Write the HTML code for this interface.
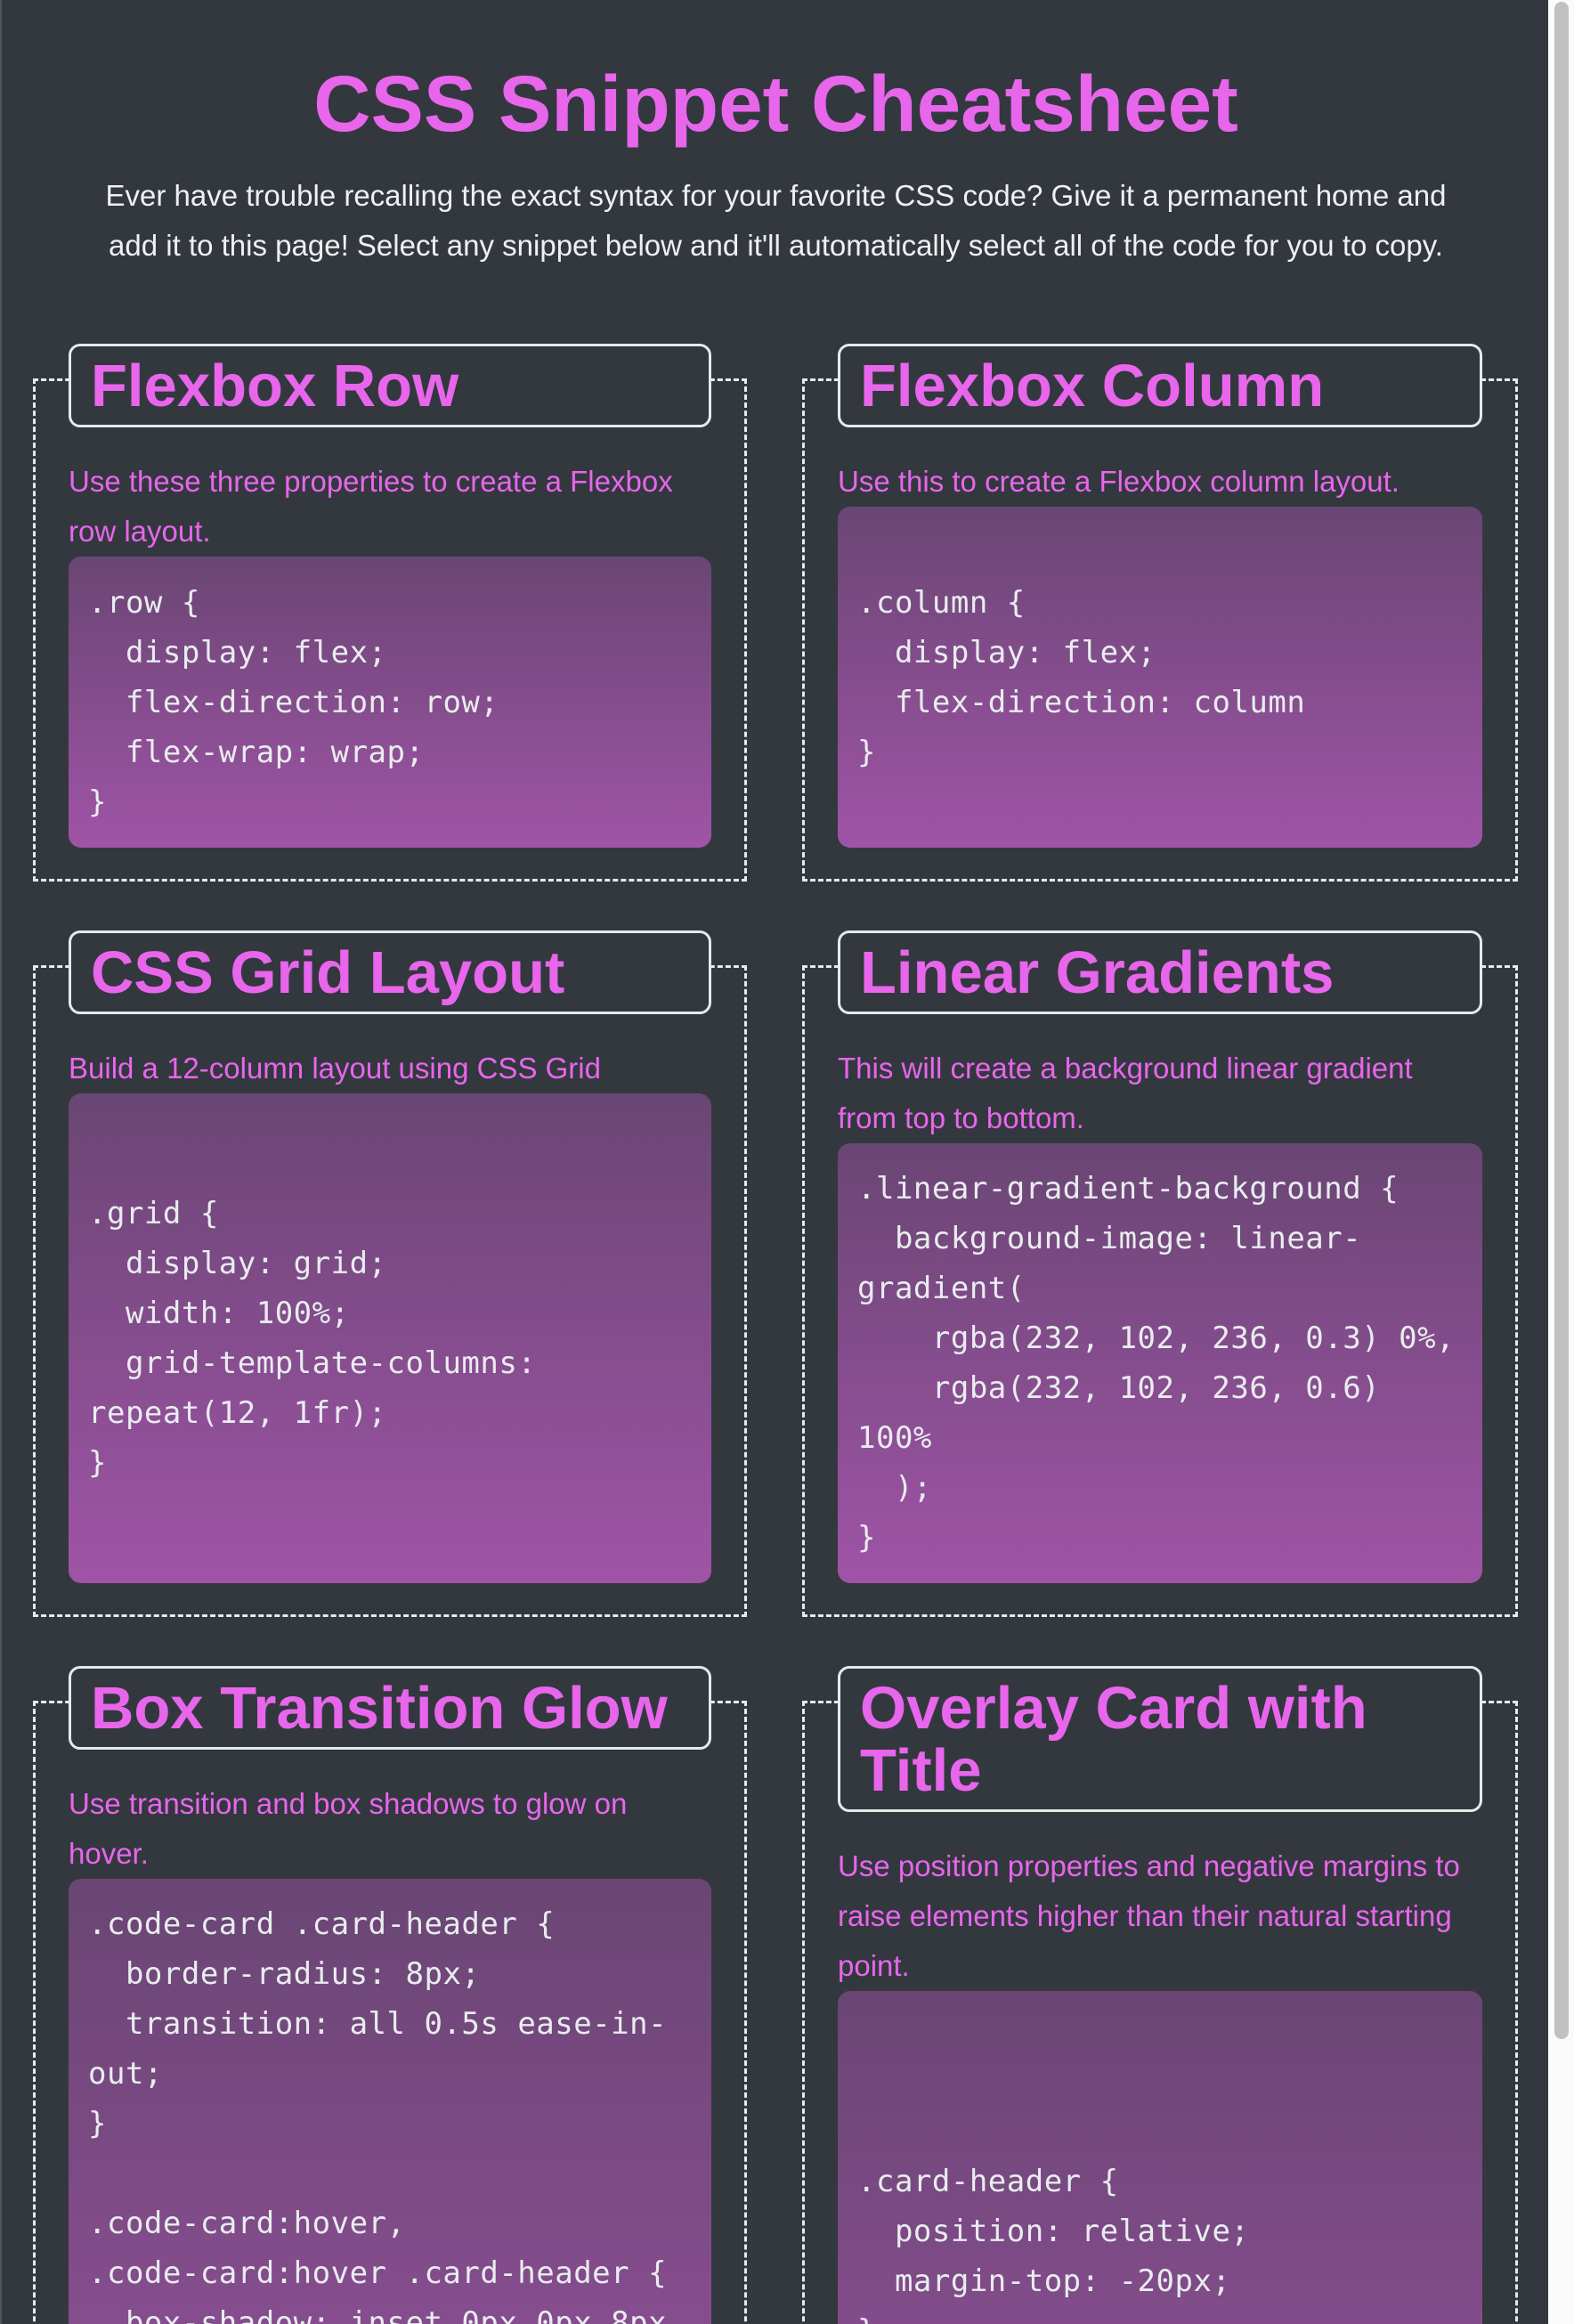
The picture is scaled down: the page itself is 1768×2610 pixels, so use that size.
<!DOCTYPE html>
<html><head><meta charset="utf-8"><style>
html,body{margin:0;padding:0;overflow:hidden;width:1768px;height:2610px;}
body{background:#fafafa;position:relative;font-family:"Liberation Sans",sans-serif;}
#page{position:absolute;left:0;top:0;width:1739px;height:2610px;background:#33383f;overflow:hidden;border-left:2px solid #50555c;box-sizing:border-box;}
#thumb{position:absolute;left:1746px;top:2px;width:16px;height:2288px;background:#c1c1c1;border-radius:8px;}
h1{position:absolute;left:0;width:1739px;top:60px;margin:0;text-align:center;color:#e866ec;font-size:89px;line-height:112px;font-weight:bold;}
.sub{position:absolute;left:0;width:1739px;top:192px;text-align:center;color:#eef0f2;font-size:33px;line-height:56px;white-space:nowrap;}
.card{position:absolute;border:3px dashed #e6ebe8;box-sizing:border-box;padding:0 37px 35px 37px;display:flex;flex-direction:column;}
.hd{margin-top:-42px;border:3px solid #e6ebe8;border-radius:13px;padding:10px 22px 8px 22px;color:#e866ec;font-weight:bold;font-size:67px;line-height:70px;background:#33383f;white-space:nowrap;}
.ds{color:#e866ec;font-size:33px;line-height:56px;margin-top:33px;white-space:nowrap;}
.cd{flex:1;border-radius:14px;background:linear-gradient(rgba(232,102,236,0.3),rgba(232,102,236,0.6));display:flex;flex-direction:column;justify-content:center;padding:0 22px;color:#e9ecef;}
.cd pre{margin:0;font-family:"DejaVu Sans Mono","Liberation Mono",monospace;font-size:34px;letter-spacing:0.5px;line-height:56px;white-space:pre-wrap;word-break:normal;}
</style></head><body>
<div id="page">
<h1>CSS Snippet Cheatsheet</h1>
<div class="sub">Ever have trouble recalling the exact syntax for your favorite CSS code? Give it a permanent home and<br>add it to this page! Select any snippet below and it'll automatically select all of the code for you to copy.</div>

<div class="card" style="left:35px;top:425px;width:802px;height:565px;">
<div class="hd">Flexbox Row</div>
<div class="ds">Use these three properties to create a Flexbox<br>row layout.</div>
<div class="cd"><pre>.row {
  display: flex;
  flex-direction: row;
  flex-wrap: wrap;
}</pre></div></div>

<div class="card" style="left:899px;top:425px;width:804px;height:565px;">
<div class="hd">Flexbox Column</div>
<div class="ds">Use this to create a Flexbox column layout.</div>
<div class="cd"><pre>.column {
  display: flex;
  flex-direction: column
}</pre></div></div>

<div class="card" style="left:35px;top:1084px;width:802px;height:732px;">
<div class="hd">CSS Grid Layout</div>
<div class="ds">Build a 12-column layout using CSS Grid</div>
<div class="cd"><pre>.grid {
  display: grid;
  width: 100%;
  grid-template-columns:
repeat(12, 1fr);
}</pre></div></div>

<div class="card" style="left:899px;top:1084px;width:804px;height:732px;">
<div class="hd">Linear Gradients</div>
<div class="ds">This will create a background linear gradient<br>from top to bottom.</div>
<div class="cd"><pre>.linear-gradient-background {
  background-image: linear-
gradient(
    rgba(232, 102, 236, 0.3) 0%,
    rgba(232, 102, 236, 0.6)
100%
  );
}</pre></div></div>

<div class="card" style="left:35px;top:1910px;width:802px;height:1200px;">
<div class="hd">Box Transition Glow</div>
<div class="ds">Use transition and box shadows to glow on<br>hover.</div>
<div class="cd" style="justify-content:flex-start;padding-top:23px;"><pre>.code-card .card-header {
  border-radius: 8px;
  transition: all 0.5s ease-in-
out;
}

.code-card:hover,
.code-card:hover .card-header {
  box-shadow: inset 0px 0px 8px
rgba(232, 102, 236, 1), 0 0 15px
rgba(232, 102, 236, 1);
}</pre></div></div>

<div class="card" style="left:899px;top:1910px;width:804px;height:1200px;">
<div class="hd">Overlay Card with<br>Title</div>
<div class="ds">Use position properties and negative margins to<br>raise elements higher than their natural starting<br>point.</div>
<div class="cd" style="justify-content:flex-start;padding-top:186px;"><pre>.card-header {
  position: relative;
  margin-top: -20px;
}</pre></div></div>
</div>
<div id="thumb"></div>
</body></html>
